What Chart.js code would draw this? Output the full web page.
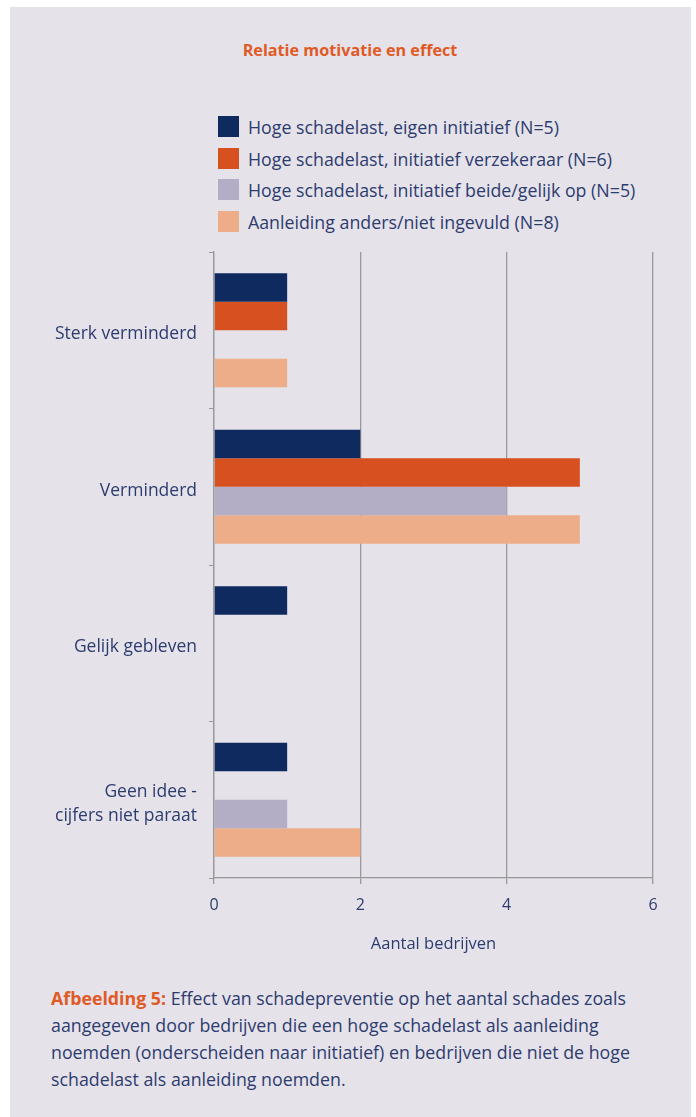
<!DOCTYPE html>
<html>
<head>
<meta charset="utf-8">
<script src="https://cdn.jsdelivr.net/npm/chart.js@4"></script>
<style>
  html, body { margin: 0; padding: 0; background: #fff; }
  body { width: 696px; height: 1117px; position: relative; overflow: hidden; font-family: "Open Sans", sans-serif; color: #2d3c6e; }
  #panel { position: absolute; left: 10px; top: 7px; width: 681px; height: 1110px; background: #e5e2ea; }
  #title { position: absolute; left: 0; width: 700px; top: 39px; text-align: center; font-weight: bold; font-size: 16.2px; color: #e05a26; }
  #legend { position: absolute; left: 218px; top: 116px; }
  .item { height: 31.7px; display: flex; align-items: flex-start; font-size: 17.8px; line-height: 22px; white-space: nowrap; }
  .box { width: 21px; height: 21px; margin-right: 9px; flex: none; }
  #wrap { position: absolute; left: 10px; top: 245px; width: 681px; height: 720px; }
  #caption { position: absolute; left: 51px; top: 985px; width: 612px; font-size: 17.8px; line-height: 27px; }
  #caption b { color: #e05a26; }
</style>
</head>
<body>
<div id="panel"></div>
<div id="title">Relatie motivatie en effect</div>
<div id="legend"></div>
<div id="wrap"><canvas id="chart"></canvas></div>
<div id="caption"><b>Afbeelding 5:</b> Effect van schadepreventie op het aantal schades zoals aangegeven door bedrijven die een hoge schadelast als aanleiding noemden (onderscheiden naar initiatief) en bedrijven die niet de hoge schadelast als aanleiding noemden.</div>
<script>
// DATA
const categories = ['Sterk verminderd', 'Verminderd', 'Gelijk gebleven', ['Geen idee -', 'cijfers niet paraat']];
const seriesNames = [
  'Hoge schadelast, eigen initiatief (N=5)',
  'Hoge schadelast, initiatief verzekeraar (N=6)',
  'Hoge schadelast, initiatief beide/gelijk op (N=5)',
  'Aanleiding anders/niet ingevuld (N=8)'
];
const eigenInitiatief = [1, 2, 1, 1];
const initiatiefVerzekeraar = [1, 5, 0, 0];
const initiatiefBeide = [0, 4, 0, 1];
const anders = [1, 5, 0, 2];
const xTicks = [0, 2, 4, 6];

const colors = ['#0f2a5f', '#d65020', '#b4adc6', '#edad88'];
const textColor = '#2d3c6e';
const gridColor = '#999999';

const allSeries = [eigenInitiatief, initiatiefVerzekeraar, initiatiefBeide, anders];

// LEGEND
const legend = document.getElementById('legend');
seriesNames.forEach((name, i) => {
  const row = document.createElement('div');
  row.className = 'item';
  row.innerHTML = '<span class="box" style="background:' + colors[i] + '"></span><span>' + name + '</span>';
  legend.appendChild(row);
});

// CHART
new Chart(document.getElementById('chart'), {
  type: 'bar',
  data: {
    labels: categories,
    datasets: allSeries.map((vals, i) => ({
      label: seriesNames[i],
      data: vals,
      backgroundColor: colors[i],
      borderWidth: 0,
      categoryPercentage: 0.73,
      barPercentage: 1
    }))
  },
  options: {
    indexAxis: 'y',
    responsive: true,
    maintainAspectRatio: false,
    animation: false,
    layout: { padding: { top: 7, right: 38, bottom: 0, left: 0 } },
    plugins: { legend: { display: false }, tooltip: { enabled: false } },
    scales: {
      x: {
        min: 0,
        max: 6,
        afterBuildTicks: s => { s.ticks = xTicks.map(v => ({ value: v })); },
        afterFit: s => { s.height = 87; },
        grid: { color: gridColor, lineWidth: 1.3, tickLength: 6 },
        border: { color: gridColor, width: 1.3 },
        ticks: { color: textColor, font: { family: 'Open Sans', size: 16 }, padding: 12 },
        title: { display: true, text: 'Aantal bedrijven', color: textColor, font: { family: 'Open Sans', size: 16.5 }, padding: { top: 4, bottom: 11 } }
      },
      y: {
        afterFit: s => { s.width = 204; s.paddingTop = 0; s.paddingBottom = 0; },
        grid: { offset: true, drawOnChartArea: false, color: gridColor, tickLength: 5 },
        border: { color: gridColor, width: 1.3 },
        ticks: { color: textColor, font: { family: 'Open Sans', size: 17.5, lineHeight: 1.35 }, padding: 12, labelOffset: 4 }
      }
    }
  }
});
</script>
</body>
</html>
